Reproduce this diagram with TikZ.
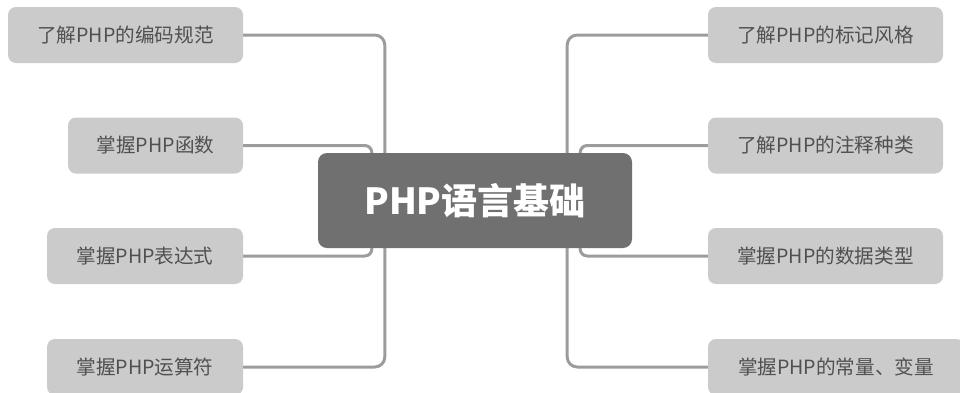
\documentclass[tikz,border=0pt]{standalone}
\usepackage{fontspec}
\setmainfont{Noto Sans CJK SC}
\usetikzlibrary{backgrounds}
\definecolor{boxfill}{HTML}{CBCBCB}
\definecolor{txt}{HTML}{505050}
\definecolor{mainfill}{HTML}{707070}
\definecolor{conn}{HTML}{9C9C9C}
\begin{document}
\begin{tikzpicture}[x=1pt,y=-1pt,
  leaf/.style={fill=boxfill, rounded corners=8pt, minimum height=56pt, inner sep=0pt,
    text=txt, font=\fontsize{19.6}{19.6}\selectfont, anchor=center},
  hub/.style={fill=mainfill, rounded corners=9pt, minimum width=314pt, minimum height=95pt,
    inner sep=0pt, text=white, font=\fontsize{36}{36}\selectfont\bfseries},
  link/.style={draw=conn, line width=3pt, rounded corners=10pt}]
\useasboundingbox (0,0) rectangle (960,392);
\clip (0,0) rectangle (960,392);
\node[hub] (c) at (475,200.5) {PHP语言基础};
\node[leaf, minimum width=235pt] (l1) at (125.5,35) {了解PHP的编码规范};
\node[leaf, minimum width=175pt] (l2) at (155.5,145.5) {掌握PHP函数};
\node[leaf, minimum width=196pt] (l3) at (145,256) {掌握PHP表达式};
\node[leaf, minimum width=196pt] (l4) at (145,367) {掌握PHP运算符};
\node[leaf, minimum width=235pt] (r1) at (825.5,35) {了解PHP的标记风格};
\node[leaf, minimum width=235pt] (r2) at (825.5,145.5) {了解PHP的注释种类};
\node[leaf, minimum width=235pt] (r3) at (825.5,256) {掌握PHP的数据类型};
\node[leaf, minimum width=256pt] (r4) at (836,367) {掌握PHP的常量、变量};
\begin{scope}[on background layer]
\draw[link] (l1.east) -| ([xshift=67pt]c.north west);
\draw[link, rounded corners=7pt] (l2.east) -| ([xshift=54pt]c.north west);
\draw[link, rounded corners=7pt] (l3.east) -| ([xshift=54pt]c.south west);
\draw[link] (l4.east) -| ([xshift=67pt]c.south west);
\draw[link] (r1.west) -| ([xshift=-65pt]c.north east);
\draw[link, rounded corners=7pt] (r2.west) -| ([xshift=-52pt]c.north east);
\draw[link, rounded corners=7pt] (r3.west) -| ([xshift=-52pt]c.south east);
\draw[link] (r4.west) -| ([xshift=-65pt]c.south east);
\end{scope}
\end{tikzpicture}
\end{document}
